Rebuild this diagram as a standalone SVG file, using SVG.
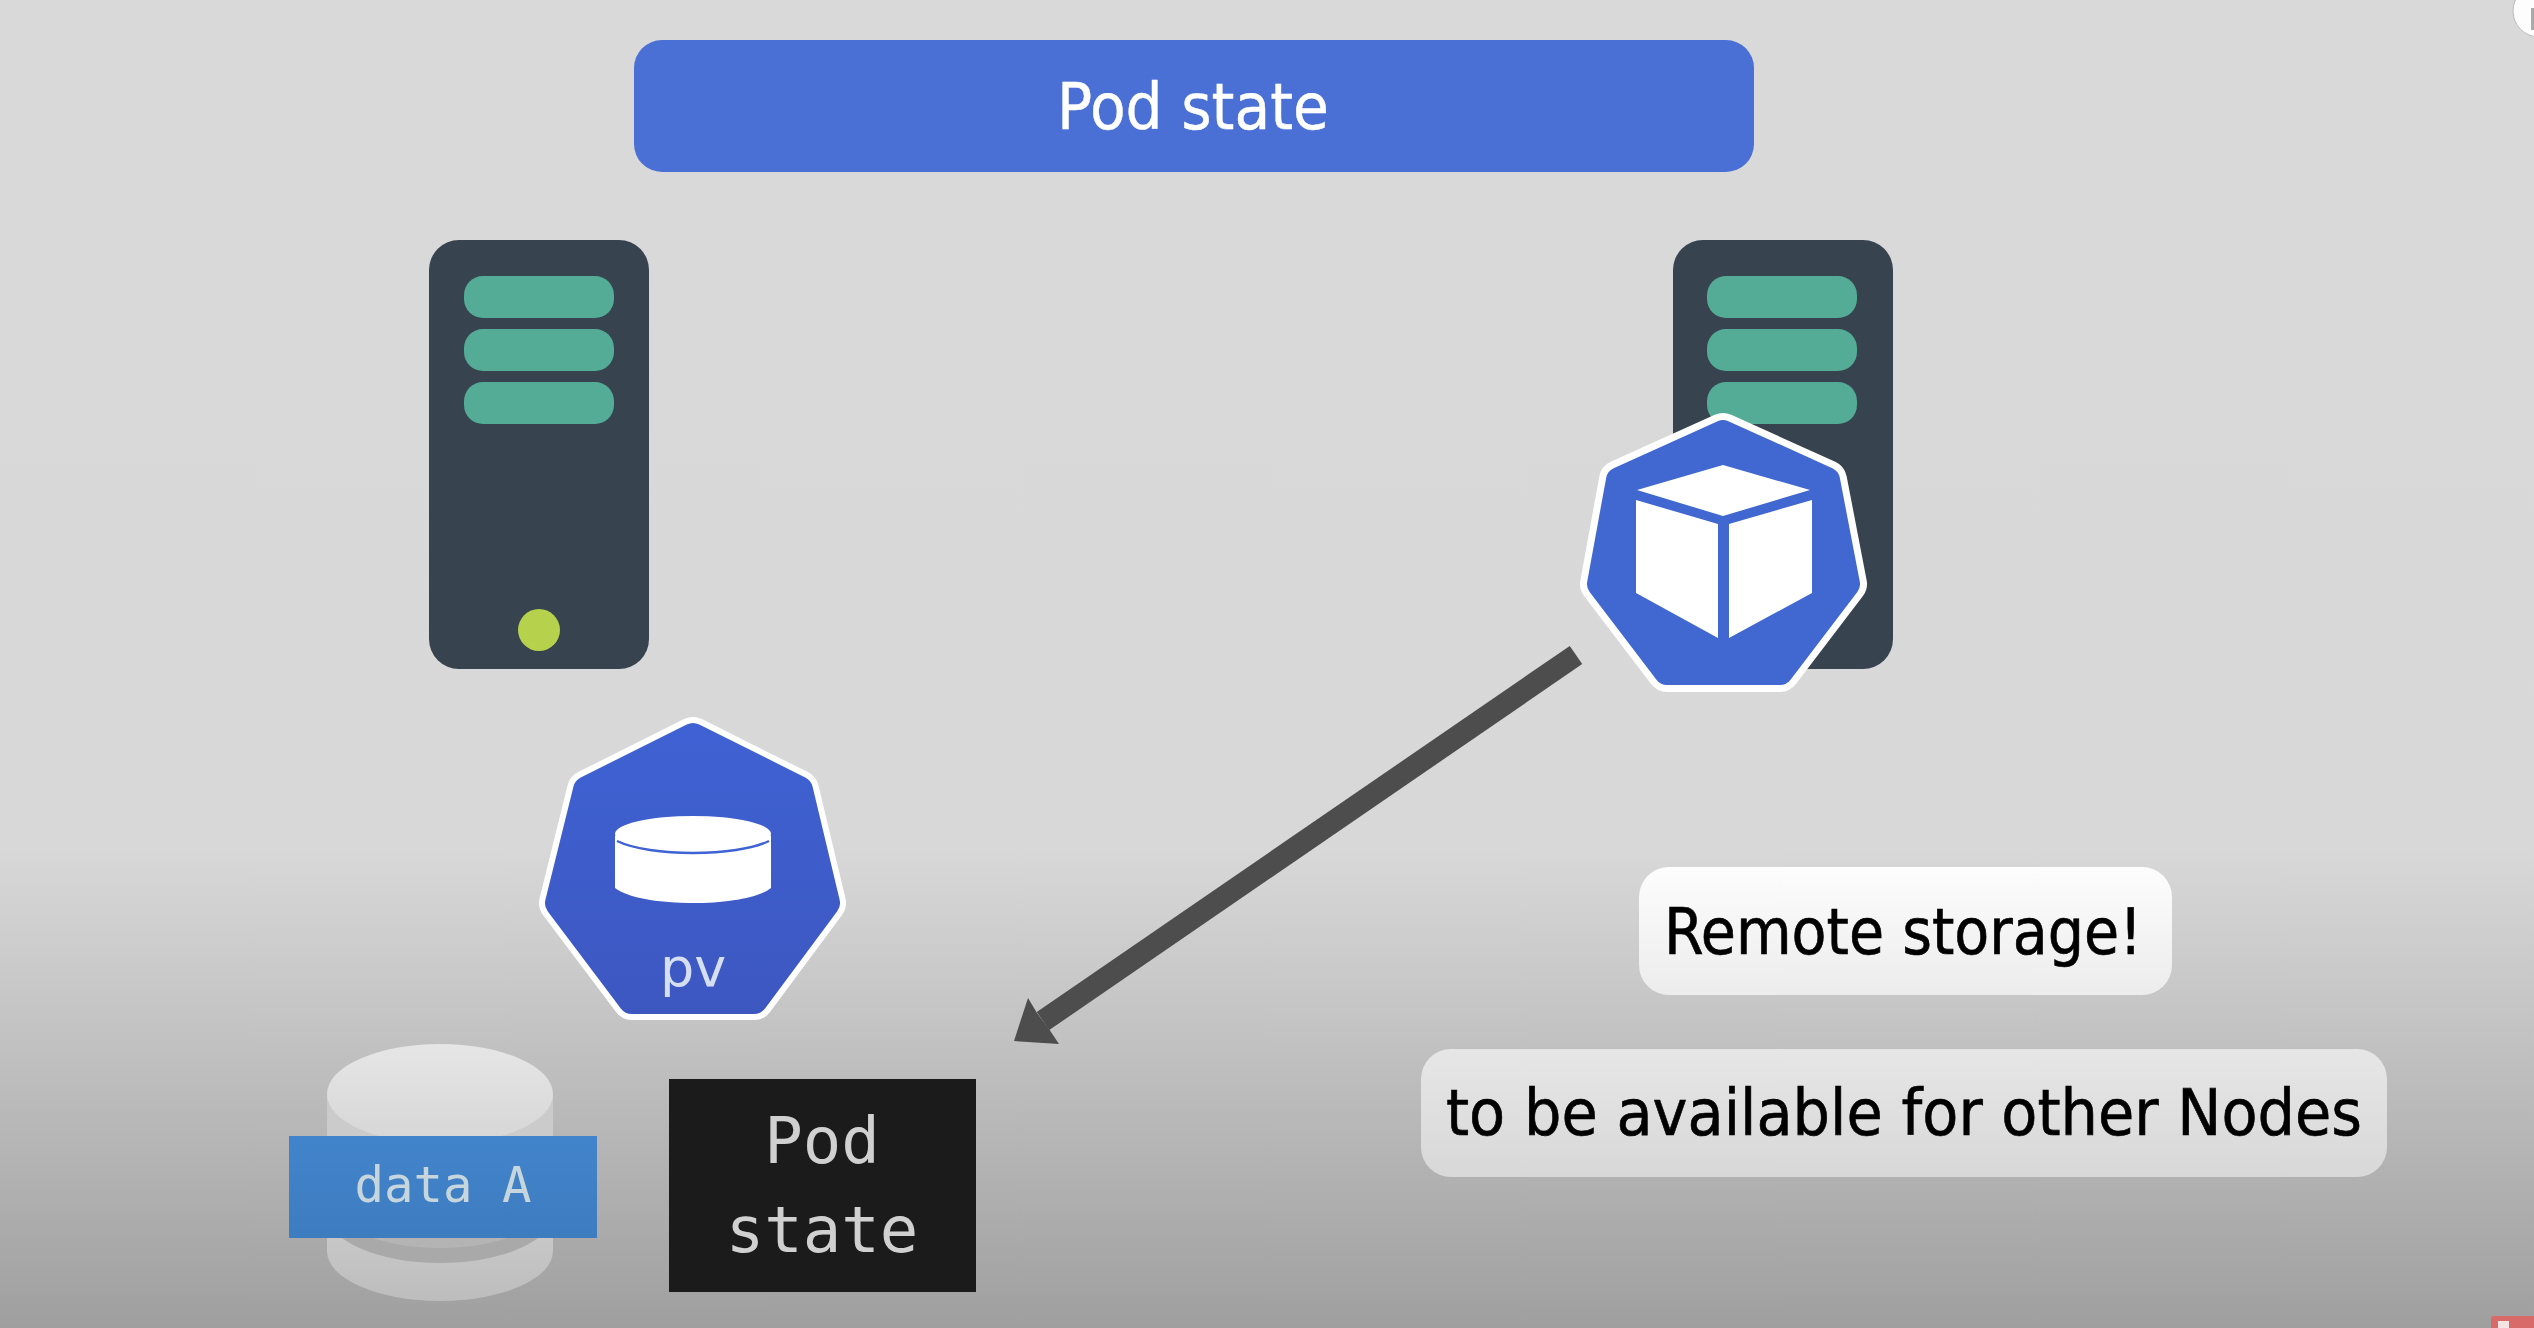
<svg xmlns="http://www.w3.org/2000/svg" width="2534" height="1328" viewBox="0 0 2534 1328">
<defs>
<linearGradient id="bg" x1="0" y1="0" x2="0" y2="1328" gradientUnits="userSpaceOnUse"><stop offset="0" stop-color="#d9d9d9"/><stop offset="0.64" stop-color="#d8d8d8"/><stop offset="0.8" stop-color="#bfbfbf"/><stop offset="1" stop-color="#9f9f9f"/></linearGradient>
<linearGradient id="hep" x1="0" y1="716" x2="0" y2="1020" gradientUnits="userSpaceOnUse"><stop offset="0" stop-color="#3f62d4"/><stop offset="1" stop-color="#3d57c0"/></linearGradient>
<linearGradient id="w1" x1="0" y1="867" x2="0" y2="995" gradientUnits="userSpaceOnUse"><stop offset="0" stop-color="#fdfdfd"/><stop offset="1" stop-color="#ececec"/></linearGradient>
<linearGradient id="w2" x1="0" y1="1049" x2="0" y2="1177" gradientUnits="userSpaceOnUse"><stop offset="0" stop-color="#e6e6e6"/><stop offset="1" stop-color="#d8d8d8"/></linearGradient>
<linearGradient id="cl" x1="0" y1="1043" x2="0" y2="1301" gradientUnits="userSpaceOnUse"><stop offset="0" stop-color="#e6e6e6"/><stop offset="1" stop-color="#bdbdbd"/></linearGradient>
<linearGradient id="blue" x1="0" y1="1136" x2="0" y2="1238" gradientUnits="userSpaceOnUse"><stop offset="0" stop-color="#4284cb"/><stop offset="1" stop-color="#3e7cc0"/></linearGradient>
</defs>
<style>
.srv{fill:#37434f}
.bar{fill:#54ac96}
.hw{fill:#fff;stroke:#fff;stroke-linejoin:round}
.t{font-family:"DejaVu Sans Condensed","DejaVu Sans",sans-serif;fill:#000;stroke:#000;stroke-width:.6;font-size:64px}
.m{font-family:"DejaVu Sans Mono",monospace;text-anchor:middle}
</style>
<rect id="background" width="2534" height="1328" fill="url(#bg)"/>
<g id="title"><rect x="634" y="40" width="1120" height="132" rx="28" fill="#4a70d6"/><text x="1193" y="129" text-anchor="middle" font-family="DejaVu Sans Condensed,DejaVu Sans,sans-serif" font-size="64" fill="#fff" stroke="#fff" stroke-width=".4" textLength="272" lengthAdjust="spacingAndGlyphs">Pod state</text></g>
<g id="server-left"><rect class="srv" x="429" y="240" width="220" height="429" rx="30"/><rect class="bar" x="464" y="276" width="150" height="42" rx="19"/><rect class="bar" x="464" y="329" width="150" height="42" rx="19"/><rect class="bar" x="464" y="382" width="150" height="42" rx="19"/><circle cx="539" cy="630" r="21" fill="#b6d24c"/></g>
<g id="server-right"><rect class="srv" x="1673" y="240" width="220" height="429" rx="30"/><rect class="bar" x="1707" y="276" width="150" height="42" rx="19"/><rect class="bar" x="1707" y="329" width="150" height="42" rx="19"/><rect class="bar" x="1707" y="382" width="150" height="42" rx="19"/></g>
<g id="pod"><polygon class="hw" stroke-width="40" points="1723,433 1827,480 1847,584 1780,672 1667,672 1600,584 1619,480"/><polygon fill="#4068d0" stroke="#4068d0" stroke-width="26" stroke-linejoin="round" points="1723,433 1827,480 1847,584 1780,672 1667,672 1600,584 1619,480"/>
<path fill="#fff" d="M1723,465 L1810,490 L1723,516 L1637,490 Z M1636,500 L1718,524 L1718,638 L1636,593 Z M1729,524 L1812,500 L1812,593 L1729,638 Z"/></g>
<g id="pv"><polygon class="hw" stroke-width="40" points="693,737 799,790 826,903 754,1000 632,1000 559,903 587,790"/><polygon fill="url(#hep)" stroke="url(#hep)" stroke-width="28" stroke-linejoin="round" points="693,737 799,790 826,903 754,1000 632,1000 559,903 587,790"/>
<ellipse cx="693" cy="834" rx="78" ry="18" fill="#fff"/>
<path fill="#fff" d="M615,836 L771,836 L771,888 C746,908 640,908 615,888 Z"/>
<path fill="none" stroke="#3f62d4" stroke-width="2.5" d="M617,841 C650,857 736,857 769,841"/>
<text x="693" y="986" text-anchor="middle" font-family="DejaVu Sans,sans-serif" font-size="54" fill="#d6def2">pv</text></g>
<g id="connectors"><path d="M1576,655 L1043,1021" stroke="#4d4d4d" stroke-width="22" fill="none"/><polygon points="1014,1041 1028,998 1037,1013 1049,1029 1059,1044" fill="#4d4d4d"/></g>
<g id="data"><rect x="327" y="1230" width="226" height="22" fill="url(#cl)"/><ellipse cx="440" cy="1251" rx="113" ry="50" fill="url(#cl)"/>
<ellipse cx="440" cy="1213" rx="113" ry="50" fill="#a9a9a9"/><ellipse cx="440" cy="1198" rx="113" ry="50" fill="#b4b4b4"/>
<rect x="327" y="1094" width="226" height="44" fill="#cbcbcb"/><ellipse cx="440" cy="1094" rx="113" ry="50" fill="url(#cl)"/>
<rect x="289" y="1136" width="308" height="102" fill="url(#blue)"/><text class="m" x="443" y="1202" font-size="49" fill="#c6d6dc">data A</text></g>
<g id="pod-state"><rect x="669" y="1079" width="307" height="213" fill="#1b1b1b"/><text class="m" x="822" y="1163" font-size="64" fill="#d0d0d0">Pod</text><text class="m" x="822" y="1252" font-size="64" fill="#d0d0d0">state</text></g>
<g id="remote"><rect x="1639" y="867" width="533" height="128" rx="30" fill="url(#w1)"/><text class="t" x="1664" y="954" textLength="478" lengthAdjust="spacingAndGlyphs">Remote storage!</text></g>
<g id="other"><rect x="1421" y="1049" width="966" height="128" rx="30" fill="url(#w2)"/><text class="t" x="1446" y="1135" textLength="916" lengthAdjust="spacingAndGlyphs">to be available for other Nodes</text></g>
<g id="info"><circle cx="2539" cy="11" r="26" fill="#fdfdfd" stroke="#bbb" stroke-width="1"/><rect x="2531" y="8" width="3" height="22" fill="#aaa"/></g>
<g id="sub"><rect x="2491" y="1316" width="50" height="20" rx="3" fill="#d96a6a"/><rect x="2498" y="1321" width="11" height="10" fill="#f4e4e4"/></g>
</svg>
